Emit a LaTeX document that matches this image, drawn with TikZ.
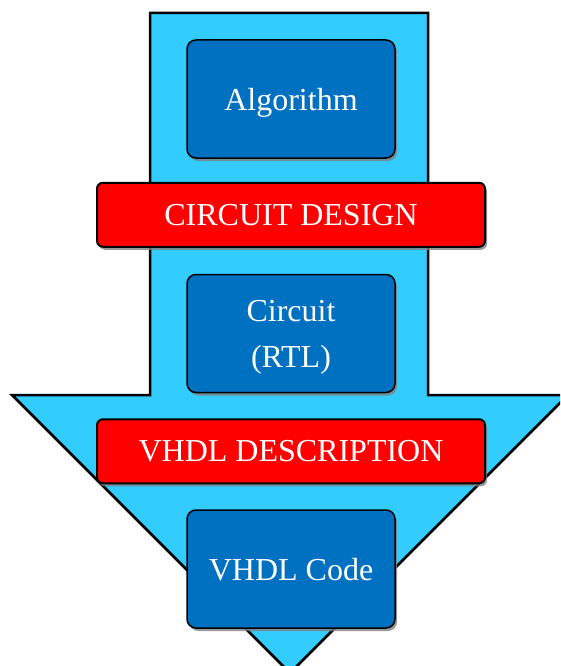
\documentclass[tikz,border=0pt]{standalone}
\usepackage{fontspec}
\setmainfont{Liberation Serif}
\usetikzlibrary{shadows}
\usetikzlibrary{positioning}

\definecolor{flowblue}{HTML}{33CCFF}
\definecolor{stageblue}{HTML}{0070C0}
\definecolor{taskred}{HTML}{FF0000}

\tikzset{
	stage/.style={draw=black, line width=1.5pt, fill=stageblue, rounded corners=9pt,
		minimum width=208pt, minimum height=118pt, text=white, align=center,
		text depth=0pt, font=\fontsize{32}{46}\selectfont,
		drop shadow={shadow xshift=2pt, shadow yshift=-3pt, fill=gray, opacity=0.8}},
	task/.style={draw=black, line width=2pt, fill=taskred, rounded corners=6pt,
		minimum width=388pt, minimum height=64pt, text=white,
		font=\fontsize{32}{38}\selectfont,
		drop shadow={shadow xshift=2pt, shadow yshift=-3pt, fill=gray, opacity=0.8}}
}

\begin{document}
\begin{tikzpicture}[x=1pt,y=-1pt]
	\clip (0,0) rectangle (560,666);
	% big flow arrow
	\draw[line width=2.5pt, fill=flowblue, line join=miter]
		(150,13) -- (428,13) -- (428,395) -- (568,395) -- (290,673)
		-- (12,395) -- (150,395) -- cycle;
	% stages and steps
	\node[stage] (alg) at (291,99) {Algorithm};
	\node[task, below=23pt of alg] (design) {CIRCUIT DESIGN};
	\node[stage, below=26pt of design] (ckt) {Circuit\\(RTL)};
	\node[task, below=25pt of ckt] (descr) {VHDL DESCRIPTION};
	\node[stage, below=25pt of descr] (vhdl) {VHDL Code};
\end{tikzpicture}
\end{document}
